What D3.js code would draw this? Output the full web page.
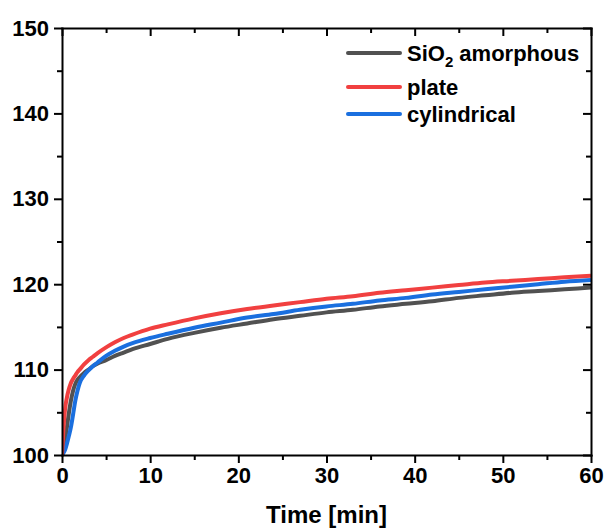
<!DOCTYPE html>
<html><head><meta charset="utf-8">
<script src="https://cdn.jsdelivr.net/npm/d3@7"></script>
<style>
html,body{margin:0;padding:0;background:#fff;}
svg text{font-family:"Liberation Sans",Arial,sans-serif;font-weight:bold;fill:#000;}
</style></head>
<body><svg id="c" width="606" height="532"></svg>
<script>
const time = [0,0.15,0.35,0.55,0.75,1,1.25,1.5,1.75,2,2.5,3,3.5,4,5,6,7,8,10,12,15,18,21,24,27,30,33,36,39,42,45,48,51,54,57,60];
const amorphous = [100,100.6,101.8,103.2,104.7,106.3,107.5,108.3,108.8,109.1,109.6,110.0,110.4,110.7,111.1,111.6,112.0,112.4,113.0,113.6,114.3,114.9,115.4,115.9,116.3,116.7,117.0,117.4,117.7,118.0,118.4,118.7,119.0,119.2,119.4,119.6];
const plate = [100,102.8,105.4,106.7,107.6,108.4,108.9,109.3,109.7,110.0,110.6,111.1,111.5,111.9,112.6,113.2,113.7,114.1,114.8,115.3,116.0,116.6,117.1,117.5,117.9,118.3,118.6,119.0,119.3,119.6,119.9,120.2,120.4,120.6,120.8,121.0];
const cylindrical = [100,100.2,100.6,101.3,102.1,103.2,104.7,106.3,107.5,108.4,109.3,109.9,110.4,110.8,111.6,112.2,112.7,113.1,113.7,114.2,114.9,115.5,116.1,116.5,117.0,117.4,117.7,118.1,118.4,118.8,119.1,119.4,119.7,120.0,120.3,120.5];
const seriesNames = ["SiO2 amorphous","plate","cylindrical"];
const seriesColors = ["#515151","#F14040","#1A6FDF"];
const xTicks = [0,10,20,30,40,50,60];
const yTicks = [100,110,120,130,140,150];

const svg = d3.select("#c");
const L=62, R=591, T=28, B=455;
const x = d3.scaleLinear().domain([0,60]).range([L,R]);
const y = d3.scaleLinear().domain([100,150]).range([B,T]);

svg.append("defs").append("clipPath").attr("id","clip")
  .append("rect").attr("x",L).attr("y",T).attr("width",R-L).attr("height",B-T);

const series = [amorphous, plate, cylindrical];
const line = d3.line().x(d=>x(d[0])).y(d=>y(d[1])).curve(d3.curveMonotoneX);
const g = svg.append("g").attr("clip-path","url(#clip)");
[0,2,1].forEach(i=>{
  g.append("path").datum(time.map((t,k)=>[t,series[i][k]]))
    .attr("d",line).attr("fill","none").attr("stroke",seriesColors[i])
    .attr("stroke-width",4).attr("stroke-linejoin","round");
});

const minorX = d3.range(5,60,10), minorY = d3.range(105,150,10);
function styleAxis(sel){
  sel.select(".domain").attr("stroke","#000").attr("stroke-width",2);
  sel.selectAll(".tick line").attr("stroke","#000").attr("stroke-width",2);
}
function minor(sel){sel.select(".domain").remove();sel.selectAll("line").attr("stroke","#000").attr("stroke-width",2);}
// bottom
const bx = svg.append("g").attr("transform",`translate(0,${B})`)
  .call(d3.axisBottom(x).tickValues(xTicks).tickSize(8).tickPadding(4).tickSizeOuter(0));
styleAxis(bx); bx.selectAll("text").attr("font-size",22);
svg.append("g").attr("transform",`translate(0,${B})`)
  .call(d3.axisBottom(x).tickValues(minorX).tickSize(5).tickFormat("").tickSizeOuter(0)).call(minor);
// top
const tx = svg.append("g").attr("transform",`translate(0,${T})`)
  .call(d3.axisBottom(x).tickValues(xTicks).tickSize(8).tickFormat("").tickSizeOuter(0));
styleAxis(tx);
svg.append("g").attr("transform",`translate(0,${T})`)
  .call(d3.axisBottom(x).tickValues(minorX).tickSize(5).tickFormat("").tickSizeOuter(0)).call(minor);
// left
const ly = svg.append("g").attr("transform",`translate(${L},0)`)
  .call(d3.axisLeft(y).tickValues(yTicks).tickSize(8).tickPadding(5).tickSizeOuter(0));
styleAxis(ly); ly.selectAll("text").attr("font-size",22);
svg.append("g").attr("transform",`translate(${L},0)`)
  .call(d3.axisLeft(y).tickValues(minorY).tickSize(5).tickFormat("").tickSizeOuter(0)).call(minor);
// right
const ry = svg.append("g").attr("transform",`translate(${R},0)`)
  .call(d3.axisLeft(y).tickValues(yTicks).tickSize(8).tickFormat("").tickSizeOuter(0));
styleAxis(ry);
svg.append("g").attr("transform",`translate(${R},0)`)
  .call(d3.axisLeft(y).tickValues(minorY).tickSize(5).tickFormat("").tickSizeOuter(0)).call(minor);
svg.selectAll(".domain").attr("stroke-linecap","square");

svg.append("text").attr("x",(L+R)/2).attr("y",523).attr("text-anchor","middle")
  .attr("font-size",24).text("Time [min]");

// legend
const legY = [53, 87, 114];
seriesNames.forEach((n,i)=>{
  svg.append("line").attr("x1",348).attr("x2",400).attr("y1",legY[i]).attr("y2",legY[i])
    .attr("stroke",seriesColors[i]).attr("stroke-width",4).attr("stroke-linecap","round");
  const t = svg.append("text").attr("x",407).attr("y",legY[i]+8).attr("font-size",22);
  if(n.startsWith("SiO2")){
    t.append("tspan").text("SiO");
    t.append("tspan").attr("font-size",15).attr("dy",6).text("2");
    t.append("tspan").attr("dy",-6).text(" amorphous");
  } else t.text(n);
});
</script></body></html>
